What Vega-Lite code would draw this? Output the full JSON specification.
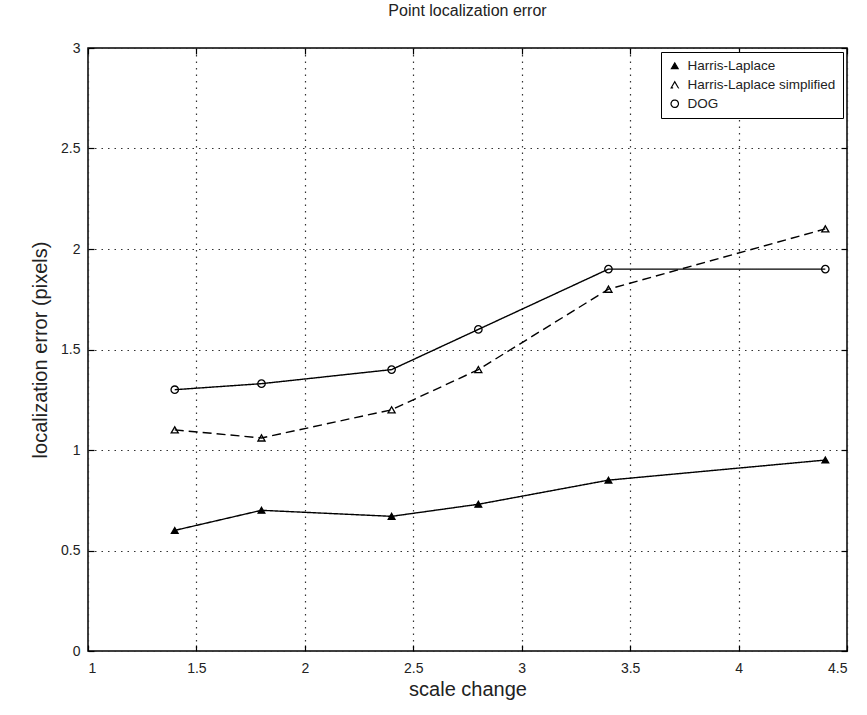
{
  "$schema": "https://vega.github.io/schema/vega-lite/v6.json",
  "autosize": "none",
  "width": 759,
  "height": 603,
  "padding": {"left": 88, "top": 48, "right": 20, "bottom": 64},
  "background": "white",
  "title": {"text": "Point localization error", "fontSize": 16, "font": "Liberation Sans", "fontWeight": "normal", "color": "#222", "offset": 22, "anchor": "middle"},
  "config": {
    "view": {"stroke": "black", "strokeWidth": 1.5},
    "font": "Liberation Sans",
    "axis": {"domain": false, "labelFont": "Liberation Sans", "titleFont": "Liberation Sans", "labelColor": "#222", "titleColor": "#222", "titleFontWeight": "normal", "labelFontSize": 14, "titleFontSize": 20, "tickColor": "black", "tickWidth": 1.2, "gridColor": "#333", "gridDash": [1.5, 5], "gridWidth": 1.2, "gridOpacity": 1}
  },
  "data": {"values": [
    {"scale": 1.4, "err": 0.60, "series": "Harris-Laplace"},
    {"scale": 1.8, "err": 0.70, "series": "Harris-Laplace"},
    {"scale": 2.4, "err": 0.67, "series": "Harris-Laplace"},
    {"scale": 2.8, "err": 0.73, "series": "Harris-Laplace"},
    {"scale": 3.4, "err": 0.85, "series": "Harris-Laplace"},
    {"scale": 4.4, "err": 0.95, "series": "Harris-Laplace"},
    {"scale": 1.4, "err": 1.10, "series": "Harris-Laplace simplified"},
    {"scale": 1.8, "err": 1.06, "series": "Harris-Laplace simplified"},
    {"scale": 2.4, "err": 1.20, "series": "Harris-Laplace simplified"},
    {"scale": 2.8, "err": 1.40, "series": "Harris-Laplace simplified"},
    {"scale": 3.4, "err": 1.80, "series": "Harris-Laplace simplified"},
    {"scale": 4.4, "err": 2.10, "series": "Harris-Laplace simplified"},
    {"scale": 1.4, "err": 1.30, "series": "DOG"},
    {"scale": 1.8, "err": 1.33, "series": "DOG"},
    {"scale": 2.4, "err": 1.40, "series": "DOG"},
    {"scale": 2.8, "err": 1.60, "series": "DOG"},
    {"scale": 3.4, "err": 1.90, "series": "DOG"},
    {"scale": 4.4, "err": 1.90, "series": "DOG"}
  ]},
  "layer": [
    {
      "mark": {"type": "line", "color": "black", "strokeWidth": 1.4},
      "encoding": {
        "x": {"field": "scale", "type": "quantitative", "scale": {"domain": [1, 4.5], "nice": false, "zero": false},
              "axis": {"values": [1, 1.5, 2, 2.5, 3, 3.5, 4, 4.5], "labelExpr": "'' + datum.value", "title": "scale change", "tickSize": -6, "labelPadding": 16, "titlePadding": 4}},
        "y": {"field": "err", "type": "quantitative", "scale": {"domain": [0, 3], "nice": false},
              "axis": {"values": [0, 0.5, 1, 1.5, 2, 2.5, 3], "labelExpr": "'' + datum.value", "title": "localization error (pixels)", "tickSize": -6, "labelPadding": 14, "titlePadding": 10}},
        "strokeDash": {"field": "series", "type": "nominal",
          "scale": {"domain": ["Harris-Laplace", "Harris-Laplace simplified", "DOG"], "range": [[1, 0], [9, 5], [1, 0]]},
          "legend": {"title": null, "orient": "top-right", "offset": 4, "strokeColor": "black", "fillColor": "white", "padding": 7, "labelFontSize": 13.5, "labelColor": "#222", "labelFont": "Liberation Sans", "symbolStrokeWidth": 1.2, "symbolStrokeColor": "black", "rowPadding": 4, "labelOffset": 6}
        }
      }
    },
    {
      "mark": {"type": "point", "stroke": "black", "strokeWidth": 1.3, "opacity": 1},
      "encoding": {
        "x": {"field": "scale", "type": "quantitative", "axis": {"orient": "top", "labels": false, "title": null, "grid": false, "values": [1, 1.5, 2, 2.5, 3, 3.5, 4, 4.5], "tickSize": -6}},
        "y": {"field": "err", "type": "quantitative", "axis": {"orient": "right", "labels": false, "title": null, "grid": false, "values": [0, 0.5, 1, 1.5, 2, 2.5, 3], "tickSize": -6}},
        "shape": {"field": "series", "type": "nominal", "legend": null,
          "scale": {"domain": ["Harris-Laplace", "Harris-Laplace simplified", "DOG"], "range": ["triangle-up", "triangle-up", "circle"]}},
        "fill": {"field": "series", "type": "nominal", "legend": null,
          "scale": {"domain": ["Harris-Laplace", "Harris-Laplace simplified", "DOG"], "range": ["black", "transparent", "transparent"]}},
        "size": {"field": "series", "type": "nominal", "legend": null,
          "scale": {"domain": ["Harris-Laplace", "Harris-Laplace simplified", "DOG"], "range": [45, 55, 90]}}
      }
    }
  ],
  "resolve": {"axis": {"x": "independent", "y": "independent"}}
}
